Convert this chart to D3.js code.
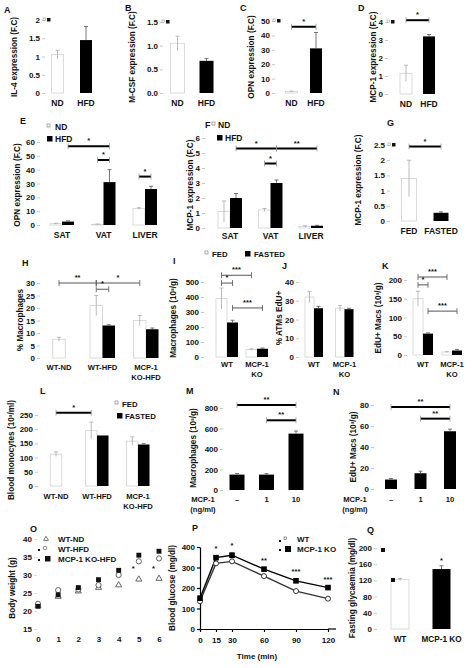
<!DOCTYPE html>
<html><head><meta charset="utf-8">
<script src="https://cdn.jsdelivr.net/npm/d3@7"></script>
<style>
body{margin:0;background:#fff}
text{font-family:"Liberation Sans",Arial,sans-serif;font-weight:bold;font-size:8px;fill:#111}
text.lbl{font-size:9px}
text.ttl{font-size:8.2px}
text.star{font-size:7.5px}
</style></head><body>
<svg id="c" width="472" height="668"></svg>
<script>
// ================= DATA =================
// A  IL-4
const aCats = ["ND", "HFD"];
const aVals = [1.05, 1.45];
const aErrs = [0.12, 0.37];
const aTicks = ["0", "0.5", "1", "1.5", "2"];
// B  M-CSF
const bCats = ["ND", "HFD"];
const bVals = [1.05, 0.68];
const bErrs = [0.15, 0.05];
const bTicks = ["0.0", "0.5", "1.0", "1.5"];
// C  OPN
const cCats = ["ND", "HFD"];
const cVals = [1, 31];
const cErrs = [0.3, 11];
const cTicks = ["0", "10", "20", "30", "40", "50"];
const cSig = [{a: ["ND", 0], b: ["HFD", 0], v: 46, t: "*"}];
// D  MCP-1
const dCats = ["ND", "HFD"];
const dVals = [1.15, 3.2];
const dErrs = [0.45, 0.1];
const dTicks = ["0", "1", "2", "3", "4"];
const dSig = [{a: ["ND", 0], b: ["HFD", 0], v: 4.1, t: "*"}];
// E  OPN by tissue
const eCats = ["SAT", "VAT", "LIVER"];
const eSeries = ["ND", "HFD"];
const eND = [1, 0.5, 12];
const eHFD = [2.5, 31, 26];
const eNDErr = [0.3, 0.2, 0.5];
const eHFDErr = [0.5, 9, 2];
const eTicks = ["0", "10", "20", "30", "40", "50", "60"];
const eSig = [
  {a: ["SAT", 1], b: ["VAT", 1], v: 57, t: "*"},
  {a: ["VAT", 0], b: ["VAT", 1], v: 47, t: "*"},
  {a: ["LIVER", 0], b: ["LIVER", 1], v: 35, t: "*"}
];
// F  MCP-1 by tissue
const fCats = ["SAT", "VAT", "LIVER"];
const fSeries = ["ND", "HFD"];
const fND = [1.1, 1.2, 0.1];
const fHFD = [2.0, 3.0, 0.15];
const fNDErr = [0.7, 0.1, 0.05];
const fHFDErr = [0.3, 0.2, 0.03];
const fTicks = ["0", "1", "2", "3", "4", "5", "6"];
const fSig = [
  {a: ["SAT", 1], b: ["VAT", 1], v: 5.3, t: "*"},
  {a: ["VAT", 1], b: ["LIVER", 1], v: 5.3, t: "**"},
  {a: ["VAT", 0], b: ["VAT", 1], v: 4.3, t: "*"}
];
// G  MCP-1 fed / fasted
const gCats = ["FED", "FASTED"];
const gVals = [1.4, 0.27];
const gErrs = [0.6, 0.03];
const gTicks = ["0", "0.5", "1", "1.5", "2", "2.5"];
const gSig = [{a: ["FED", 0], b: ["FASTED", 0], v: 2.45, t: "*"}];
// H  % macrophages
const hCats = ["WT-ND", "WT-HFD", "MCP-1 KO-HFD"];
const fastSeries = ["FED", "FASTED"];
const hFed = [7.5, 21, 15];
const hFasted = [null, 13, 11.5];
const hFedErr = [0.8, 4, 2];
const hFastedErr = [0, 0.3, 0.5];
const hTicks = ["0", "5", "10", "15", "20", "25", "30"];
const hSig = [
  {a: ["WT-ND", 0], b: ["WT-HFD", 0], v: 30, t: "**"},
  {a: ["WT-HFD", 0], b: ["MCP-1 KO-HFD", 0], v: 30, t: "*"},
  {a: ["WT-HFD", 0], b: ["WT-HFD", 1], v: 27.5, t: "*"}
];
// I  macrophages
const iCats = ["WT", "MCP-1 KO"];
const iFed = [390, 50];
const iFasted = [230, 55];
const iFedErr = [70, 5];
const iFastedErr = [15, 5];
const iTicks = ["0", "100", "200", "300", "400", "500"];
const iSig = [
  {a: ["WT", 0], b: ["MCP-1 KO", 0], v: 545, t: "***"},
  {a: ["WT", 0], b: ["WT", 1], v: 493, t: "*"},
  {a: ["WT", 1], b: ["MCP-1 KO", 1], v: 327, t: "***"}
];
// J  % ATMs EdU+
const jCats = ["WT", "MCP-1 KO"];
const jFed = [32, 26];
const jFasted = [26, 25.5];
const jFedErr = [3, 1.5];
const jFastedErr = [1, 0.5];
const jTicks = ["0", "10", "20", "30", "40"];
// K  EdU+ macs
const kCats = ["WT", "MCP-1 KO"];
const kFed = [150, 8];
const kFasted = [57, 12];
const kFedErr = [20, 1];
const kFastedErr = [2, 3];
const kTicks = ["0", "50", "100", "150", "200"];
const kSig = [
  {a: ["WT", 0], b: ["MCP-1 KO", 0], v: 208, t: "***"},
  {a: ["WT", 0], b: ["WT", 1], v: 187, t: "*"},
  {a: ["WT", 1], b: ["MCP-1 KO", 1], v: 117, t: "***"}
];
// L  blood monocytes
const lCats = ["WT-ND", "WT-HFD", "MCP-1 KO-HFD"];
const lFed = [112, 195, 158];
const lFasted = [null, 178, 146];
const lFedErr = [8, 30, 15];
const lFastedErr = [0, 0, 3];
const lTicks = ["0", "50", "100", "150", "200", "250"];
const lSig = [{a: ["WT-ND", 0], b: ["WT-HFD", 0], v: 258, t: "*"}];
// M  macrophages vs MCP-1 dose
const doseCats = ["–", "1", "10"];
const mVals = [150, 150, 550];
const mErrs = [10, 10, 25];
const mTicks = ["0", "200", "400", "600", "800"];
const mSig = [
  {a: ["–", 0], b: ["10", 0], v: 830, t: "**"},
  {a: ["1", 0], b: ["10", 0], v: 680, t: "**"}
];
// N  EdU+ macs vs dose
const nVals = [9, 15, 55];
const nErrs = [1, 2, 2];
const nTicks = ["0", "20", "40", "60", "80"];
const nSig = [
  {a: ["–", 0], b: ["10", 0], v: 78, t: "**"},
  {a: ["1", 0], b: ["10", 0], v: 67, t: "**"}
];
// O  body weight
const oWeeks = [0, 1, 2, 3, 4, 5, 6];
const oSeries = ["WT-ND", "WT-HFD", "MCP-1 KO-HFD"];
const oWTND = [21.5, 24, 25.5, 26.5, 27.2, 28.8, 29];
const oWTHFD = [22, 25.8, 26, 27.2, 30, 33.8, 34.6];
const oKOHFD = [21.3, 24.5, 26.5, 28.7, 31.3, 35.5, 36.6];
const oTicks = ["15", "20", "25", "30", "35", "40"];
// P  glucose tolerance
const pTimes = [0, 15, 30, 60, 90, 120];
const pSeries = ["WT", "MCP-1 KO"];
const pWT = [135, 320, 330, 258, 185, 148];
const pKO = [150, 348, 360, 292, 235, 202];
const pWTErr = [10, 10, 10, 6, 5, 4];
const pKOErr = [10, 8, 10, 8, 8, 5];
const pSig = ["", "*", "*", "**", "***", "***"];
const pTicks = ["0", "100", "200", "300", "400"];
// Q  fasting glycaemia
const qCats = ["WT", "MCP-1 KO"];
const qVals = [122, 148];
const qErrs = [3, 8];
const qTicks = ["0", "40", "80", "120", "160", "200"];
const qStars = [null, "*"];

// ================= DRAWING =================
const svg = d3.select("#c");
const WHITE = "#fff", BLACK = "#000";

function letter(x, y, t) { svg.append("text").attr("class", "lbl").attr("x", x).attr("y", y).text(t); }
function yTitle(x, yc, t) {
  svg.append("text").attr("class", "ttl").attr("text-anchor", "middle")
    .attr("transform", `translate(${x},${yc}) rotate(-90)`).text(t);
}
function artifact(x, y) {
  svg.append("rect").attr("x", x).attr("y", y - 2).attr("width", 2.5).attr("height", 2.5)
    .attr("fill", "#fff").attr("stroke", "#999").attr("stroke-width", 0.6);
  svg.append("rect").attr("x", x + 4).attr("y", y - 2).attr("width", 3.5).attr("height", 3.5).attr("fill", "#111");
}
function legend(items, size) {
  items.forEach(it => {
    if (it.fill === WHITE) {
      svg.append("rect").attr("x", it.x).attr("y", it.y - 6).attr("width", 3).attr("height", 3)
        .attr("fill", "#fff").attr("stroke", "#888").attr("stroke-width", 0.7);
    } else {
      svg.append("rect").attr("x", it.x - 1).attr("y", it.y - 6).attr("width", 5.5).attr("height", 5.5).attr("fill", "#000");
    }
    svg.append("text").attr("x", it.tx).attr("y", it.y).style("font-size", (size || 8) + "px").text(it.label);
  });
}

function barPanel(c) {
  const g = svg.append("g");
  const maxT = d3.max(c.ticks, Number);
  const y = d3.scaleLinear().domain([0, maxT]).range([c.y0, c.yTop]);
  const x = d3.scalePoint().domain(c.cats).range(c.cx);
  const nS = c.series.length;
  const inner = d3.scaleBand().domain(d3.range(nS)).range([-nS * c.barW / 2, nS * c.barW / 2]);
  const left = (ci, si) => {
    const cnt = c.series.filter(s => s.vals[ci] != null).length;
    return (cnt === 1 && nS > 1) ? x(c.cats[ci]) - c.barW / 2 : x(c.cats[ci]) + inner(si);
  };
  const center = (cat, si) => left(c.cats.indexOf(cat), si) + c.barW / 2;

  const ax = d3.axisLeft(y).tickValues(c.ticks.map(Number)).tickFormat((d, i) => c.ticks[i])
    .tickSize(3).tickPadding(2);
  const ag = g.append("g").attr("transform", `translate(${c.axisX},0)`).call(ax);
  ag.select(".domain").remove();
  ag.selectAll(".tick line").attr("stroke", "#c8c8c8");
  ag.attr("font-size", null).attr("font-family", null);

  c.series.forEach((s, si) => {
    s.vals.forEach((v, ci) => {
      if (v == null) return;
      const fill = Array.isArray(s.fill) ? s.fill[ci] : s.fill;
      const white = fill === WHITE;
      const bx = left(ci, si);
      g.append("rect").attr("x", bx).attr("y", y(v)).attr("width", c.barW).attr("height", y(0) - y(v))
        .attr("fill", fill).attr("stroke", white ? "#d2d2d2" : "none").attr("stroke-width", 0.8);
      const e = s.errs ? s.errs[ci] : 0;
      if (e > 0) {
        const mx = bx + c.barW / 2;
        const col = white ? "#aaa" : "#555";
        g.append("line").attr("x1", mx).attr("x2", mx)
          .attr("y1", y(white ? Math.max(0, v - e) : v)).attr("y2", y(v + e))
          .attr("stroke", col).attr("stroke-width", 0.8);
        g.append("line").attr("x1", mx - 2).attr("x2", mx + 2).attr("y1", y(v + e)).attr("y2", y(v + e))
          .attr("stroke", col).attr("stroke-width", 0.8);
      }
      if (c.stars && c.stars[ci]) {
        g.append("text").attr("class", "star").attr("text-anchor", "middle")
          .attr("x", bx + c.barW / 2).attr("y", y(v + e) - 3).text(c.stars[ci]);
      }
    });
  });

  c.cats.forEach(cat => {
    const parts = (c.wrap && cat.indexOf(" ") > 0) ? [cat.slice(0, cat.indexOf(" ")), cat.slice(cat.indexOf(" ") + 1)] : [cat];
    parts.forEach((p, i) => {
      g.append("text").attr("text-anchor", "middle").attr("x", x(cat)).attr("y", c.catY + i * 10)
        .style("font-size", (c.catSize || 8) + "px").text(p);
    });
  });

  (c.sig || []).forEach(b => {
    const x1 = center(b.a[0], b.a[1]), x2 = center(b.b[0], b.b[1]), yy = y(b.v);
    const thick = c.brStyle !== "thin";
    g.append("line").attr("x1", x1).attr("x2", x2).attr("y1", yy).attr("y2", yy)
      .attr("stroke", thick ? "#000" : "#555").attr("stroke-width", thick ? 2 : 1);
    [x1, x2].forEach(xx => g.append("line").attr("x1", xx).attr("x2", xx).attr("y1", yy - 3).attr("y2", yy + 3)
      .attr("stroke", thick ? "#999" : "#555").attr("stroke-width", 0.8));
    g.append("text").attr("class", "star").attr("text-anchor", "middle")
      .attr("x", (x1 + x2) / 2).attr("y", yy - 3).text(b.t);
  });
  return {x, y};
}

// A
letter(4, 13, "A");
yTitle(17, 57, "IL-4  expression (F.C)");
barPanel({cats: aCats, series: [{vals: aVals, errs: aErrs, fill: [WHITE, BLACK]}], ticks: aTicks,
  axisX: 45, y0: 93, yTop: 20, cx: [57.5, 86], barW: 12, catY: 106, catSize: 8.5});
artifact(43, 20);
// B
letter(125, 11, "B");
yTitle(135, 57, "M-CSF expression (F.C)");
barPanel({cats: bCats, series: [{vals: bVals, errs: bErrs, fill: [WHITE, BLACK]}], ticks: bTicks,
  axisX: 163, y0: 93, yTop: 22, cx: [177.5, 206.5], barW: 14, catY: 106, catSize: 8.5});
artifact(162, 22);
// C
letter(240, 11, "C");
yTitle(254, 57, "OPN  expression (F.C)");
barPanel({cats: cCats, series: [{vals: cVals, errs: cErrs, fill: [WHITE, BLACK]}], ticks: cTicks,
  axisX: 275, y0: 93, yTop: 21, cx: [291.5, 316], barW: 12, catY: 106, catSize: 8.5, sig: cSig});
artifact(273, 21);
// D
letter(358, 11, "D");
yTitle(376, 57, "MCP-1 expression (F.C)");
barPanel({cats: dCats, series: [{vals: dVals, errs: dErrs, fill: [WHITE, BLACK]}], ticks: dTicks,
  axisX: 388, y0: 94, yTop: 22, cx: [406, 429], barW: 12, catY: 107, catSize: 8.5, sig: dSig});
artifact(387, 22);
// E
letter(20, 124, "E");
yTitle(20, 185, "OPN expression (F.C)");
barPanel({cats: eCats, series: [{vals: eND, errs: eNDErr, fill: WHITE}, {vals: eHFD, errs: eHFDErr, fill: BLACK}],
  ticks: eTicks, axisX: 40, y0: 225, yTop: 142, cx: [62, 145], barW: 12, catY: 238, catSize: 8.5, sig: eSig});
legend([{x: 47, y: 130, tx: 55, fill: WHITE, label: eSeries[0]}, {x: 48, y: 142, tx: 55, fill: BLACK, label: eSeries[1]}], 8.5);
// F
letter(205, 128, "F");
yTitle(193, 185, "MCP-1 expression (F.C)");
barPanel({cats: fCats, series: [{vals: fND, errs: fNDErr, fill: WHITE}, {vals: fHFD, errs: fHFDErr, fill: BLACK}],
  ticks: fTicks, axisX: 205, y0: 228, yTop: 138, cx: [230, 311], barW: 12, catY: 239, catSize: 8.5, sig: fSig});
legend([{x: 212, y: 128, tx: 218, fill: WHITE, label: fSeries[0]}, {x: 218, y: 141, tx: 225, fill: BLACK, label: fSeries[1]}], 8.5);
// G
letter(387, 126, "G");
yTitle(361, 180, "MCP-1 expression (F.C)");
barPanel({cats: gCats, series: [{vals: gVals, errs: gErrs, fill: [WHITE, BLACK]}], ticks: gTicks,
  axisX: 390, y0: 221, yTop: 145, cx: [409, 441], barW: 15, catY: 234, catSize: 8.5, sig: gSig});
artifact(388, 145);
// H
letter(22, 266, "H");
yTitle(23, 320, "% Macrophages");
barPanel({cats: hCats, series: [{vals: hFed, errs: hFedErr, fill: WHITE}, {vals: hFasted, errs: hFastedErr, fill: BLACK}],
  ticks: hTicks, axisX: 40, y0: 358, yTop: 283, cx: [59, 146], barW: 12.5, catY: 370, catSize: 7.6, wrap: true, sig: hSig, brStyle: "thin"});
// I
letter(173, 264, "I");
yTitle(176, 318, "Macrophages (10³/g)");
barPanel({cats: iCats, series: [{vals: iFed, errs: iFedErr, fill: WHITE}, {vals: iFasted, errs: iFastedErr, fill: BLACK}],
  ticks: iTicks, axisX: 204, y0: 357, yTop: 282, cx: [227, 257], barW: 11, catY: 367, catSize: 7.6, wrap: true, sig: iSig, brStyle: "thin"});
legend([{x: 205, y: 257, tx: 212, fill: WHITE, label: fastSeries[0]}, {x: 246, y: 257, tx: 254, fill: BLACK, label: fastSeries[1]}], 7.8);
// J
letter(282, 269, "J");
yTitle(282, 318, "% ATMs EdU+");
barPanel({cats: jCats, series: [{vals: jFed, errs: jFedErr, fill: WHITE}, {vals: jFasted, errs: jFastedErr, fill: BLACK}],
  ticks: jTicks, axisX: 299, y0: 357, yTop: 282, cx: [314, 344.5], barW: 9, catY: 367, catSize: 7.6, wrap: true});
// K
letter(382, 269, "K");
yTitle(381, 318, "EdU+ Macs (10³/g)");
barPanel({cats: kCats, series: [{vals: kFed, errs: kFedErr, fill: WHITE}, {vals: kFasted, errs: kFastedErr, fill: BLACK}],
  ticks: kTicks, axisX: 407, y0: 355, yTop: 280, cx: [423, 452], barW: 10, catY: 367, catSize: 7.6, wrap: true, sig: kSig, brStyle: "thin"});
// L
letter(40, 394, "L");
yTitle(14, 450, "Blood monocytes (10³/ml)");
barPanel({cats: lCats, series: [{vals: lFed, errs: lFedErr, fill: WHITE}, {vals: lFasted, errs: lFastedErr, fill: BLACK}],
  ticks: lTicks, axisX: 38, y0: 486, yTop: 415, cx: [56, 138], barW: 11.5, catY: 499, catSize: 7.6, wrap: true, sig: lSig});
legend([{x: 115, y: 407, tx: 122, fill: WHITE, label: fastSeries[0]}, {x: 118, y: 419, tx: 125, fill: BLACK, label: fastSeries[1]}], 7.8);
// M
letter(186, 394, "M");
yTitle(196, 448, "Macrophages (10³/g)");
barPanel({cats: doseCats, series: [{vals: mVals, errs: mErrs, fill: BLACK}], ticks: mTicks,
  axisX: 223, y0: 490, yTop: 408, cx: [237, 296], barW: 15, catY: 502, catSize: 7.6, sig: mSig});
svg.append("text").attr("text-anchor", "middle").attr("x", 203).attr("y", 502).style("font-size", "7.6px").text("MCP-1");
svg.append("text").attr("text-anchor", "middle").attr("x", 203).attr("y", 512).style("font-size", "7.6px").text("(ng/ml)");
// N
letter(333, 395, "N");
yTitle(356, 447, "EdU+ Macs (10³/g)");
barPanel({cats: doseCats, series: [{vals: nVals, errs: nErrs, fill: BLACK}], ticks: nTicks,
  axisX: 374, y0: 489, yTop: 405, cx: [391, 450], barW: 12, catY: 502, catSize: 7.6, sig: nSig});
svg.append("text").attr("text-anchor", "middle").attr("x", 355).attr("y", 502).style("font-size", "7.6px").text("MCP-1");
svg.append("text").attr("text-anchor", "middle").attr("x", 355).attr("y", 512).style("font-size", "7.6px").text("(ng/ml)");

// O  body weight
letter(30, 532, "O");
yTitle(15, 588, "Body weight (g)");
{
  const x = d3.scaleLinear().domain([0, 6]).range([38, 159]);
  const y = d3.scaleLinear().domain([15, 40]).range([629, 539]);
  const ay = svg.append("g").attr("transform", "translate(37,0)")
    .call(d3.axisLeft(y).tickValues(oTicks.map(Number)).tickFormat((d, i) => oTicks[i]).tickSize(3).tickPadding(2));
  ay.select(".domain").remove(); ay.selectAll(".tick line").attr("stroke", "#ddd");
  ay.attr("font-size", null).attr("font-family", null);
  const axb = svg.append("g").attr("transform", "translate(0,629)")
    .call(d3.axisBottom(x).tickValues(oWeeks).tickFormat(d3.format("d")).tickSize(0).tickPadding(7));
  axb.select(".domain").remove(); axb.attr("font-size", null).attr("font-family", null);
  const tri = d3.symbol(d3.symbolTriangle).size(16)();
  const sq = d3.symbol(d3.symbolSquare).size(24)();
  oWeeks.forEach((w, i) => {
    svg.append("path").attr("d", tri).attr("transform", `translate(${x(w)},${y(oWTND[i])})`)
      .attr("fill", "#fff").attr("stroke", "#555").attr("stroke-width", 0.9);
    svg.append("circle").attr("cx", x(w)).attr("cy", y(oWTHFD[i])).attr("r", 2.6)
      .attr("fill", "#fff").attr("stroke", "#555").attr("stroke-width", 0.9);
    svg.append("path").attr("d", sq).attr("transform", `translate(${x(w)},${y(oKOHFD[i])})`).attr("fill", "#111");
  });
  [5, 6].forEach(w => svg.append("text").attr("class", "star").attr("x", x(w) - 7).attr("y", y(31)).text("*"));
  // legend
  svg.append("path").attr("d", d3.symbol(d3.symbolTriangle).size(10)()).attr("transform", "translate(46,539)")
    .attr("fill", "#fff").attr("stroke", "#555").attr("stroke-width", 0.8);
  svg.append("rect").attr("x", 38).attr("y", 549).attr("width", 2).attr("height", 2).attr("fill", "#111");
  svg.append("circle").attr("cx", 45).attr("cy", 548).attr("r", 1.8).attr("fill", "#fff").attr("stroke", "#555").attr("stroke-width", 0.7);
  svg.append("rect").attr("x", 38).attr("y", 559).attr("width", 2).attr("height", 2).attr("fill", "#111");
  svg.append("rect").attr("x", 45).attr("y", 556).attr("width", 5.5).attr("height", 5.5).attr("fill", "#111");
  oSeries.forEach((s, i) => svg.append("text").attr("x", 58).attr("y", 542 + i * 10).text(s));
}

// P  glucose
letter(192, 531, "P");
yTitle(175, 588, "Blood glucose (mg/dl)");
{
  const x = d3.scaleLinear().domain([0, 120]).range([200, 328]);
  const y = d3.scaleLinear().domain([0, 400]).range([629, 547]);
  const ay = svg.append("g").attr("transform", "translate(200,0)")
    .call(d3.axisLeft(y).tickValues(pTicks.map(Number)).tickFormat((d, i) => pTicks[i]).tickSize(3).tickPadding(2).tickSizeOuter(0));
  ay.attr("font-size", null).attr("font-family", null);
  ay.selectAll("path,line").attr("stroke", "#000").attr("stroke-width", 1.2);
  const axb = svg.append("g").attr("transform", "translate(0,629)")
    .call(d3.axisBottom(x).tickValues(pTimes).tickSize(3).tickPadding(5).tickSizeOuter(0));
  axb.attr("font-size", null).attr("font-family", null);
  axb.selectAll("path,line").attr("stroke", "#000").attr("stroke-width", 1.2);
  svg.append("line").attr("x1", 328).attr("x2", 336).attr("y1", 629).attr("y2", 629).attr("stroke", "#000").attr("stroke-width", 1.2);
  svg.append("text").attr("text-anchor", "middle").attr("x", 257).attr("y", 659).text("Time (min)");
  const line = vals => d3.line().x((d, i) => x(pTimes[i])).y(d => y(d))(vals);
  svg.append("path").attr("d", line(pWT)).attr("fill", "none").attr("stroke", "#333").attr("stroke-width", 1.4);
  svg.append("path").attr("d", line(pKO)).attr("fill", "none").attr("stroke", "#000").attr("stroke-width", 1.4);
  pTimes.forEach((t, i) => {
    [[pWT, pWTErr], [pKO, pKOErr]].forEach(([v, e]) => {
      svg.append("line").attr("x1", x(t)).attr("x2", x(t)).attr("y1", y(v[i] - e[i])).attr("y2", y(v[i] + e[i])).attr("stroke", "#000").attr("stroke-width", 0.8);
      svg.append("line").attr("x1", x(t) - 2).attr("x2", x(t) + 2).attr("y1", y(v[i] + e[i])).attr("y2", y(v[i] + e[i])).attr("stroke", "#000").attr("stroke-width", 0.8);
    });
    svg.append("circle").attr("cx", x(t)).attr("cy", y(pWT[i])).attr("r", 2.5).attr("fill", "#fff").attr("stroke", "#222").attr("stroke-width", 0.9);
    svg.append("rect").attr("x", x(t) - 2.8).attr("y", y(pKO[i]) - 2.8).attr("width", 5.6).attr("height", 5.6).attr("fill", "#000");
    if (pSig[i]) svg.append("text").attr("class", "star").attr("text-anchor", "middle")
      .attr("x", x(t)).attr("y", y(pKO[i] + pKOErr[i]) - 5).text(pSig[i]);
  });
  svg.append("rect").attr("x", 279).attr("y", 540).attr("width", 2).attr("height", 2).attr("fill", "#111");
  svg.append("rect").attr("x", 284).attr("y", 537).attr("width", 2.5).attr("height", 2.5).attr("fill", "#fff").attr("stroke", "#555").attr("stroke-width", 0.6);
  svg.append("rect").attr("x", 279).attr("y", 549).attr("width", 2).attr("height", 2).attr("fill", "#111");
  svg.append("rect").attr("x", 285).attr("y", 546).attr("width", 6).attr("height", 6).attr("fill", "#000");
  pSeries.forEach((s, i) => svg.append("text").attr("x", 297).attr("y", 542 + i * 10).text(s));
}

// Q
letter(367, 533, "Q");
yTitle(355, 588, "Fasting glycaemia (mg/dl)");
barPanel({cats: qCats, series: [{vals: qVals, errs: qErrs, fill: [WHITE, BLACK]}], ticks: qTicks,
  axisX: 377, y0: 629, yTop: 548, cx: [400, 441.5], barW: 18, catY: 642, catSize: 8.2, stars: qStars});
svg.append("rect").attr("x", 381).attr("y", 548).attr("width", 4).attr("height", 4).attr("fill", "#111");
svg.append("rect").attr("x", 391).attr("y", 578).attr("width", 4).attr("height", 4).attr("fill", "#111");
</script>
</body></html>
